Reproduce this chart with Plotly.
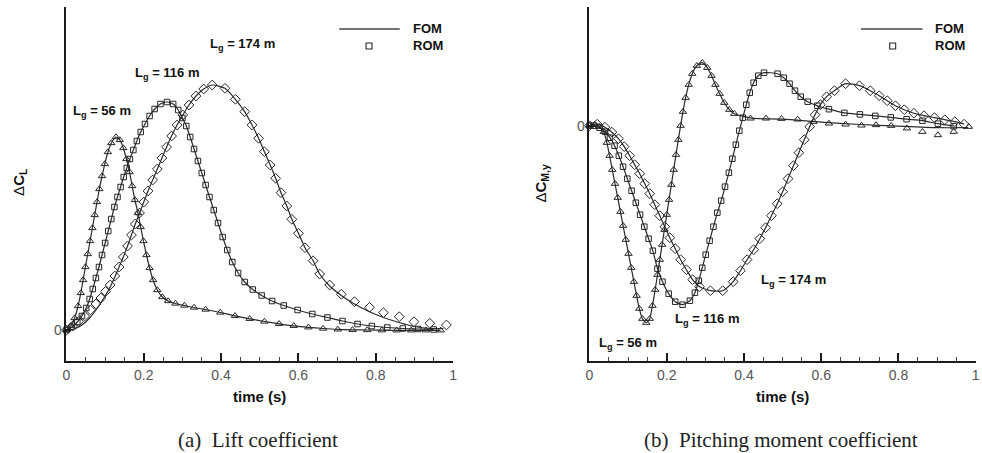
import plotly.graph_objects as go

# ---------------- data (arbitrary units, 0 = baseline) ----------------
# (a) Lift coefficient, ROM symbols
lift56_t = [0.000, 0.011, 0.021, 0.030, 0.037, 0.043, 0.049, 0.055, 0.061, 0.067, 0.073, 0.079, 0.085,
            0.092, 0.099, 0.107, 0.116, 0.128, 0.138, 0.147, 0.155, 0.163, 0.170, 0.177, 0.185, 0.192,
            0.199, 0.207, 0.215, 0.224, 0.235, 0.248, 0.263, 0.282, 0.305, 0.330, 0.360, 0.398, 0.436,
            0.474, 0.512, 0.550, 0.588, 0.626, 0.664, 0.702, 0.740, 0.778, 0.816, 0.854, 0.892, 0.930, 0.968]
lift56_y = [0.00, 0.04, 0.12, 0.24, 0.37, 0.50, 0.63, 0.76, 0.89, 1.02, 1.15, 1.28, 1.41,
            1.54, 1.66, 1.78, 1.87, 1.93, 1.90, 1.82, 1.71, 1.58, 1.44, 1.30, 1.17, 1.03,
            0.89, 0.75, 0.62, 0.50, 0.40, 0.33, 0.29, 0.265, 0.245, 0.225, 0.205, 0.175, 0.142,
            0.112, 0.085, 0.062, 0.042, 0.027, 0.015, 0.006, 0.002, 0.000, -0.002, -0.003, -0.003, -0.003, -0.003]

lift116_t = [0.000, 0.014, 0.028, 0.040, 0.051, 0.060, 0.068, 0.076, 0.084, 0.092, 0.100, 0.108, 0.116,
             0.124, 0.132, 0.140, 0.148, 0.156, 0.164, 0.173, 0.182, 0.192, 0.203, 0.215, 0.228, 0.243,
             0.260, 0.276, 0.289, 0.300, 0.310, 0.320, 0.330, 0.340, 0.350, 0.360, 0.370, 0.381, 0.392,
             0.404, 0.416, 0.429, 0.444, 0.461, 0.482, 0.505, 0.532, 0.562, 0.598, 0.636, 0.675, 0.714,
             0.753, 0.790, 0.830, 0.870, 0.910, 0.950]
lift116_y = [0.00, 0.03, 0.08, 0.14, 0.22, 0.31, 0.41, 0.52, 0.63, 0.75, 0.87, 0.99, 1.11,
             1.23, 1.33, 1.43, 1.53, 1.62, 1.71, 1.80, 1.89, 1.98, 2.06, 2.14, 2.21, 2.26,
             2.28, 2.26, 2.20, 2.12, 2.04, 1.93, 1.81, 1.69, 1.57, 1.45, 1.33, 1.20, 1.07,
             0.93, 0.80, 0.68, 0.57, 0.48, 0.405, 0.345, 0.29, 0.245, 0.20, 0.16, 0.125, 0.09,
             0.06, 0.04, 0.025, 0.015, 0.01, 0.005]

lift174_t = [0.000, 0.016, 0.031, 0.047, 0.062, 0.076, 0.089, 0.101, 0.113, 0.125, 0.136, 0.147, 0.158,
             0.168, 0.178, 0.189, 0.200, 0.211, 0.223, 0.235, 0.247, 0.259, 0.272, 0.286, 0.301, 0.317,
             0.335, 0.355, 0.377, 0.410, 0.437, 0.461, 0.480, 0.497, 0.512, 0.527, 0.541, 0.555, 0.570,
             0.583, 0.600, 0.617, 0.638, 0.655, 0.681, 0.711, 0.745, 0.784, 0.820, 0.861, 0.899, 0.940, 0.983]
lift174_y = [0.00, 0.04, 0.085, 0.14, 0.20, 0.26, 0.32, 0.385, 0.45, 0.54, 0.63, 0.73, 0.84,
             0.95, 1.06, 1.17, 1.28, 1.39, 1.50, 1.61, 1.72, 1.83, 1.94, 2.05, 2.15, 2.25,
             2.34, 2.41, 2.45, 2.417, 2.307, 2.183, 2.05, 1.917, 1.783, 1.65, 1.517, 1.373, 1.24,
             1.107, 0.967, 0.823, 0.693, 0.56, 0.45, 0.357, 0.283, 0.227, 0.173, 0.133, 0.083, 0.067, 0.05]

# (a) FOM line for 174 m (differs from ROM at start and tail)
lift174_fom_t = [0.000, 0.020, 0.040, 0.060, 0.080, 0.100, 0.113, 0.125, 0.136, 0.147, 0.158, 0.168, 0.178,
                 0.189, 0.200, 0.211, 0.223, 0.235, 0.247, 0.259, 0.272, 0.286, 0.301, 0.317, 0.335, 0.355,
                 0.377, 0.410, 0.437, 0.461, 0.480, 0.497, 0.512, 0.527, 0.541, 0.555, 0.570, 0.583, 0.600,
                 0.617, 0.638, 0.655, 0.681, 0.711, 0.745, 0.780, 0.820, 0.860, 0.900, 0.940, 0.975]
lift174_fom_y = [0.00, 0.01, 0.05, 0.12, 0.22, 0.34, 0.43, 0.53, 0.63, 0.73, 0.84, 0.95, 1.06,
                 1.17, 1.28, 1.39, 1.50, 1.61, 1.72, 1.83, 1.94, 2.05, 2.15, 2.25, 2.34, 2.41,
                 2.45, 2.417, 2.307, 2.183, 2.05, 1.917, 1.783, 1.65, 1.517, 1.373, 1.24, 1.107, 0.967,
                 0.823, 0.693, 0.56, 0.44, 0.345, 0.26, 0.19, 0.125, 0.075, 0.035, 0.015, 0.015]

# (b) Pitching moment coefficient, ROM symbols
pitch56_t = [0.000, 0.013, 0.026, 0.037, 0.045, 0.052, 0.059, 0.066, 0.073, 0.080, 0.087, 0.094, 0.101,
             0.108, 0.115, 0.122, 0.129, 0.137, 0.147, 0.156, 0.163, 0.170, 0.176, 0.182, 0.188, 0.194,
             0.200, 0.206, 0.212, 0.218, 0.224, 0.230, 0.236, 0.242, 0.249, 0.257, 0.266, 0.278, 0.292,
             0.305, 0.316, 0.326, 0.337, 0.349, 0.362, 0.375, 0.417, 0.457, 0.497, 0.539, 0.580, 0.620,
             0.663, 0.704, 0.742, 0.781, 0.822, 0.862, 0.902, 0.943, 0.982]
pitch56_y = [0.00, 0.01, -0.01, -0.06, -0.17, -0.30, -0.44, -0.58, -0.72, -0.86, -1.00, -1.14, -1.28,
             -1.42, -1.56, -1.70, -1.83, -1.93, -1.97, -1.93, -1.80, -1.64, -1.49, -1.34, -1.19, -1.04,
             -0.89, -0.74, -0.59, -0.44, -0.29, -0.14, 0.00, 0.14, 0.28, 0.41, 0.52, 0.60, 0.63,
             0.58, 0.50, 0.41, 0.32, 0.23, 0.16, 0.12, 0.073, 0.073, 0.07, 0.063, 0.04, 0.023,
             0.013, 0.003, 0.007, 0.0, -0.026, -0.06, -0.093, -0.06, -0.01]

# (b) FOM line for 56 m (ROM drifts below it in the tail)
pitch56_fom_t = [0.000, 0.013, 0.026, 0.037, 0.045, 0.052, 0.059, 0.066, 0.073, 0.080, 0.087, 0.094, 0.101,
                 0.108, 0.115, 0.122, 0.129, 0.137, 0.147, 0.156, 0.163, 0.170, 0.176, 0.182, 0.188, 0.194,
                 0.200, 0.206, 0.212, 0.218, 0.224, 0.230, 0.236, 0.242, 0.249, 0.257, 0.266, 0.278, 0.292,
                 0.305, 0.316, 0.326, 0.337, 0.349, 0.362, 0.375, 0.420, 0.500, 0.600, 0.700, 0.800, 0.900, 0.980]
pitch56_fom_y = [0.00, 0.01, -0.01, -0.06, -0.17, -0.30, -0.44, -0.58, -0.72, -0.86, -1.00, -1.14, -1.28,
                 -1.42, -1.56, -1.70, -1.83, -1.93, -1.97, -1.93, -1.80, -1.64, -1.49, -1.34, -1.19, -1.04,
                 -0.89, -0.74, -0.59, -0.44, -0.29, -0.14, 0.00, 0.14, 0.28, 0.41, 0.52, 0.60, 0.63,
                 0.58, 0.50, 0.41, 0.32, 0.23, 0.16, 0.12, 0.075, 0.065, 0.035, 0.012, -0.005, -0.02, -0.02]

pitch116_t = [0.000, 0.012, 0.026, 0.040, 0.053, 0.065, 0.076, 0.087, 0.098, 0.109, 0.120, 0.131, 0.142,
              0.153, 0.164, 0.176, 0.189, 0.205, 0.222, 0.241, 0.260, 0.273, 0.283, 0.292, 0.301, 0.311,
              0.321, 0.331, 0.341, 0.351, 0.361, 0.370, 0.379, 0.388, 0.397, 0.406, 0.415, 0.425, 0.437,
              0.452, 0.487, 0.503, 0.518, 0.532, 0.547, 0.565, 0.590, 0.620, 0.660, 0.700, 0.740, 0.780,
              0.821, 0.862, 0.902, 0.943]
pitch116_y = [0.00, 0.00, -0.02, -0.06, -0.12, -0.20, -0.30, -0.41, -0.53, -0.65, -0.77, -0.89, -1.01,
              -1.13, -1.25, -1.43, -1.56, -1.68, -1.76, -1.79, -1.75, -1.67, -1.55, -1.42, -1.29, -1.15,
              -1.01, -0.87, -0.75, -0.61, -0.47, -0.33, -0.19, -0.05, 0.08, 0.21, 0.33, 0.43, 0.50,
              0.53, 0.52, 0.48, 0.42, 0.35, 0.29, 0.24, 0.20, 0.165, 0.128, 0.113, 0.098, 0.083,
              0.065, 0.05, 0.02, -0.005]

pitch174_t = [0.000, 0.020, 0.040, 0.058, 0.075, 0.090, 0.104, 0.117, 0.130, 0.143, 0.156, 0.169, 0.182,
              0.195, 0.208, 0.222, 0.236, 0.251, 0.267, 0.285, 0.313, 0.345, 0.372, 0.391, 0.408, 0.425,
              0.441, 0.456, 0.471, 0.486, 0.500, 0.514, 0.528, 0.542, 0.556, 0.570, 0.584, 0.598, 0.614,
              0.634, 0.663, 0.699, 0.727, 0.750, 0.771, 0.792, 0.815, 0.840, 0.866, 0.893, 0.920, 0.946, 0.970]
pitch174_y = [0.00, 0.015, -0.015, -0.065, -0.13, -0.21, -0.30, -0.39, -0.48, -0.58, -0.68, -0.79, -0.90,
              -1.01, -1.12, -1.23, -1.34, -1.44, -1.54, -1.61, -1.65, -1.65, -1.56, -1.45, -1.34, -1.24,
              -1.13, -1.02, -0.90, -0.78, -0.66, -0.53, -0.40, -0.27, -0.14, -0.01, 0.11, 0.21, 0.29,
              0.35, 0.42, 0.40, 0.35, 0.30, 0.25, 0.20, 0.16, 0.125, 0.10, 0.08, 0.06, 0.04, 0.015]

x_ticks = [0, 0.2, 0.4, 0.6, 0.8, 1]
x_tick_labels = ["0", "0.2", "0.4", "0.6", "0.8", "1"]
y_tick_vals = [0]
y_tick_labels = ["0"]

# ---------------- figure ----------------
W, H = 982, 453


def fx(p):
    return p / W


def fy(p):
    return 1 - p / H


LINE_C = "#2b2b2b"
MARK_C = "#262626"
AXIS_C = "#1a1a1a"
SANS = "Liberation Sans, Arial, sans-serif"
SERIF = "Liberation Serif, Times New Roman, serif"

fig = go.Figure()


def add_curve(t_fom, y_fom, t_rom, y_rom, symbol, size, xa, ya):
    fig.add_trace(go.Scatter(x=t_fom, y=y_fom, mode="lines", xaxis=xa, yaxis=ya,
                             line=dict(color=LINE_C, width=1.2, shape="spline", smoothing=0.6),
                             showlegend=False, hoverinfo="skip"))
    fig.add_trace(go.Scatter(x=t_rom, y=y_rom, mode="markers", xaxis=xa, yaxis=ya,
                             marker=dict(symbol=symbol, size=size, color=MARK_C,
                                         line=dict(color=MARK_C, width=1.0)),
                             showlegend=False, cliponaxis=False))


add_curve(lift56_t, lift56_y, lift56_t, lift56_y, "triangle-up-open", 6.5, "x", "y")
add_curve(lift116_t, lift116_y, lift116_t, lift116_y, "square-open", 5.5, "x", "y")
add_curve(lift174_fom_t, lift174_fom_y, lift174_t, lift174_y, "diamond-open", 7.5, "x", "y")

add_curve(pitch56_fom_t, pitch56_fom_y, pitch56_t, pitch56_y, "triangle-up-open", 6.5, "x2", "y2")
add_curve(pitch116_t, pitch116_y, pitch116_t, pitch116_y, "square-open", 5.5, "x2", "y2")
add_curve(pitch174_t, pitch174_y, pitch174_t, pitch174_y, "diamond-open", 7.5, "x2", "y2")

xcommon = dict(range=[0, 1], tickvals=x_ticks, ticktext=x_tick_labels, showline=True,
               linecolor=AXIS_C, linewidth=2, ticks="inside", ticklen=8, tickwidth=1.6,
               tickcolor=AXIS_C, showgrid=False, zeroline=False,
               tickfont=dict(family=SANS, size=14, color="#555555"),
               minor=dict(ticks="inside", ticklen=4, tickwidth=1, tickcolor="#444444", dtick=0.05,
                          showgrid=False))
ycommon = dict(tickvals=y_tick_vals, ticktext=y_tick_labels, showline=True, linecolor=AXIS_C,
               linewidth=2, ticks="inside", ticklen=5, tickwidth=1.5, tickcolor=AXIS_C,
               showgrid=False, zeroline=False, tickfont=dict(family=SANS, size=14, color="#555555"))

ydom = [fy(361), fy(7)]
fig.update_layout(
    width=W, height=H, margin=dict(l=0, r=0, t=0, b=0),
    paper_bgcolor="white", plot_bgcolor="white", showlegend=False,
    xaxis=dict(domain=[fx(63), fx(452.7)], anchor="y", **xcommon),
    yaxis=dict(domain=ydom, anchor="x", range=[-0.31, 3.23], **ycommon),
    xaxis2=dict(domain=[fx(590.3), fx(979.7)], anchor="y2", **xcommon),
    yaxis2=dict(domain=ydom, anchor="x2", range=[-2.353, 1.187], **ycommon),
)

ann = []


def txt(x, y, s, size=13, font=SANS, color="#111111", angle=0, xanchor="center"):
    ann.append(dict(x=fx(x), y=fy(y), xref="paper", yref="paper", text=s, showarrow=False,
                    xanchor=xanchor, yanchor="middle", textangle=angle,
                    font=dict(family=font, size=size, color=color)))


# axis titles
txt(258, 396, "<b>time (s)</b>", size=15)
txt(785, 396, "<b>time (s)</b>", size=15)
txt(15, 182, "Δ<b>C<sub>L</sub></b>", size=15, angle=-90)
txt(541, 183, "Δ<b>C<sub>M,y</sub></b>", size=15, angle=-90)

# curve labels
txt(240, 44, "<b>L<sub>g</sub> = 174 m</b>")
txt(164, 74, "<b>L<sub>g</sub> = 116 m</b>")
txt(99, 111, "<b>L<sub>g</sub> = 56 m</b>")
txt(796, 280, "<b>L<sub>g</sub> = 174 m</b>")
txt(709, 319, "<b>L<sub>g</sub> = 116 m</b>")
txt(629, 343, "<b>L<sub>g</sub> = 56 m</b>")

# legends (text)
txt(410, 29, "<b>FOM</b>", xanchor="left")
txt(410, 46, "<b>ROM</b>", xanchor="left")
txt(937, 29, "<b>FOM</b>", xanchor="left")
txt(937, 46, "<b>ROM</b>", xanchor="left")

# captions
txt(256, 440, "(a)\u00a0 Lift coefficient", size=21, font=SERIF, color="#222222")
txt(783, 440, "(b)\u00a0 Pitching moment coefficient", size=21, font=SERIF, color="#222222")

fig.update_layout(annotations=ann)

# legend keys
shapes = []
for x0, x1, sx in [(338, 399, 368), (864, 926, 896)]:
    shapes.append(dict(type="line", xref="paper", yref="paper", x0=fx(x0), x1=fx(x1),
                       y0=fy(29), y1=fy(29), line=dict(color="#444444", width=1.5)))
    shapes.append(dict(type="rect", xref="paper", yref="paper", x0=fx(sx - 3), x1=fx(sx + 3),
                       y0=fy(49), y1=fy(43), line=dict(color=MARK_C, width=1.1)))
fig.update_layout(shapes=shapes)

fig.write_html("out.html")
